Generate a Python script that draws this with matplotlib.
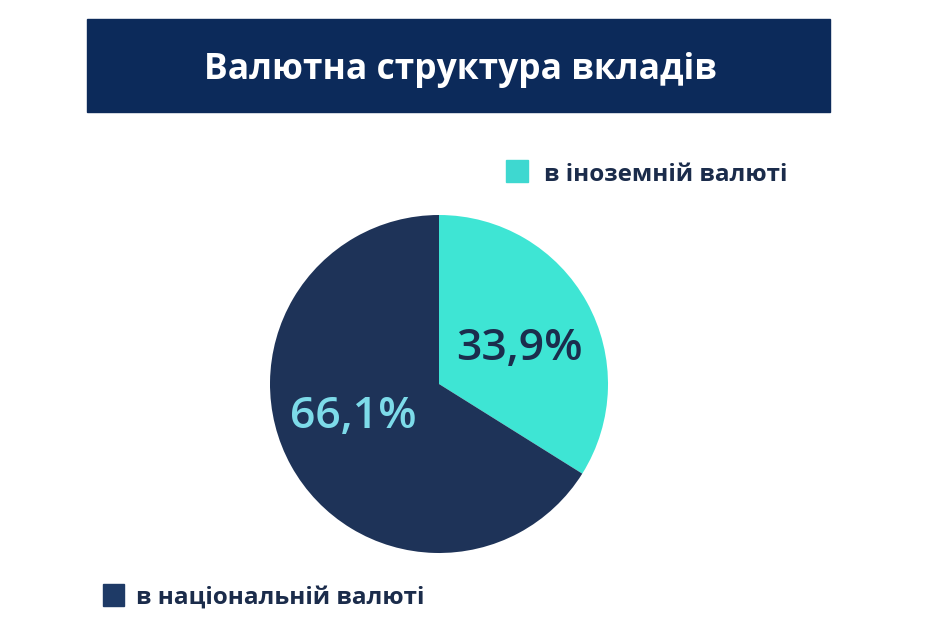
import numpy as np
import matplotlib
matplotlib.use('Agg')
import matplotlib.pyplot as plt
from matplotlib.patches import Rectangle

# data
title = 'Валютна структура вкладів'
categories = ['в іноземній валюті', 'в національній валюті']
shares = [33.9, 66.1]
colors = ['#3ee5d4', '#1e3358']
label_colors = ['#1b2d4d', '#7ddbe9']

W, H = 927, 641
plt.rcParams['font.family'] = ['Open Sans', 'DejaVu Sans']

fig = plt.figure(figsize=(W / 100, H / 100), dpi=100)
fig.patch.set_facecolor('white')

# overlay axes in pixel coords for banner / legend
bg = fig.add_axes([0, 0, 1, 1])
bg.set_xlim(0, W)
bg.set_ylim(H, 0)
bg.axis('off')

bg.add_patch(Rectangle((87, 19), 743, 93, color='#0c2a5a', zorder=1))
bg.text(460, 79, title, color='white', fontsize=25.5, fontweight='bold',
        ha='center', va='baseline', zorder=2)

# legend entries
bg.add_patch(Rectangle((506, 160), 22, 22, color='#3ed8d0'))
bg.text(544, 181, categories[0], color='#1b2c4b', fontsize=17.5,
        fontweight='bold', ha='left', va='baseline')
bg.add_patch(Rectangle((103, 584), 21, 22, color='#1e3a66'))
bg.text(136, 604, categories[1], color='#1b2c4b', fontsize=17.5,
        fontweight='bold', ha='left', va='baseline')

# pie
cx, cy, r = 439, 384, 169
ax = fig.add_axes([(cx - r) / W, (H - cy - r) / H, 2 * r / W, 2 * r / H])
wedges, _ = ax.pie(shares, colors=colors, startangle=90, counterclock=False,
                   wedgeprops=dict(linewidth=0))
ax.set_xlim(-1, 1)
ax.set_ylim(-1, 1)
ax.set_aspect('equal')
ax.axis('off')

# label placement (radius, angle shift from wedge middle)
label_pos = [(0.52, -5.5), (0.54, -8)]
for w, val, lc, (rr, da) in zip(wedges, shares, label_colors, label_pos):
    ang = np.deg2rad((w.theta1 + w.theta2) / 2 + da)
    ax.text(rr * np.cos(ang), rr * np.sin(ang), f'{val:.1f}%'.replace('.', ','),
            color=lc, fontsize=32, fontweight='semibold',
            ha='center', va='center')

fig.savefig('out.png', dpi=100)
